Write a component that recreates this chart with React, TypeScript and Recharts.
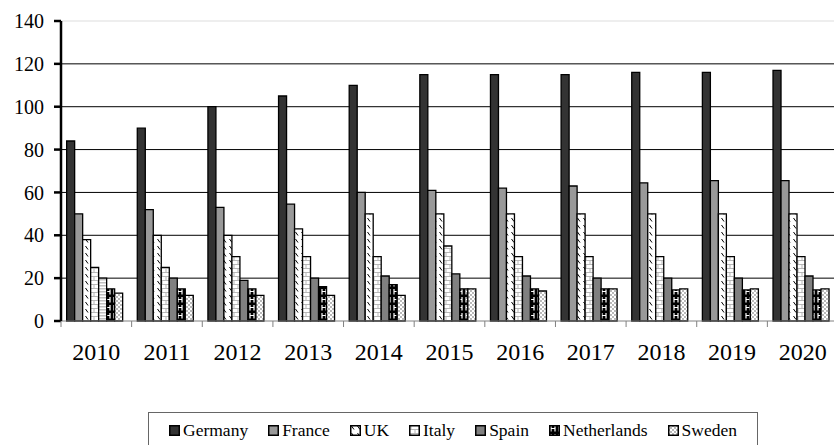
import { BarChart, Bar, XAxis, YAxis, CartesianGrid, ReferenceLine, Cell } from "recharts";

const years = ["2010", "2011", "2012", "2013", "2014", "2015", "2016", "2017", "2018", "2019", "2020"];
const germany = [84, 90, 100, 105, 110, 115, 115, 115, 116, 116, 117];
const france = [50, 52, 53, 54.5, 60, 61, 62, 63, 64.5, 65.5, 65.5];
const uk = [38, 40, 40, 43, 50, 50, 50, 50, 50, 50, 50];
const italy = [25, 25, 30, 30, 30, 35, 30, 30, 30, 30, 30];
const spain = [20, 20, 19, 20, 21, 22, 21, 20, 20, 20, 21];
const netherlands = [15, 15, 15, 16, 17, 15, 15, 15, 14.5, 14.5, 14.5];
const sweden = [13, 12, 12, 12, 12, 15, 14, 15, 15, 15, 15];
const yTicks = [0, 20, 40, 60, 80, 100, 120, 140];
const gridValues = [20, 40, 60, 80, 100, 120];

const series = [
  { key: "Germany", values: germany, fill: "#333333" },
  { key: "France", values: france, fill: "#999999" },
  { key: "UK", values: uk, fill: "url(#pat-uk)" },
  { key: "Italy", values: italy, fill: "url(#pat-italy)" },
  { key: "Spain", values: spain, fill: "#808080" },
  { key: "Netherlands", values: netherlands, fill: "url(#pat-nl)" },
  { key: "Sweden", values: sweden, fill: "url(#pat-se)" },
];

const data = years.map((year, i) => {
  const row: Record<string, string | number> = { year };
  series.forEach((s) => (row[s.key] = s.values[i]));
  return row;
});

const FONT = "Liberation Serif, Times New Roman, DejaVu Serif, serif";
const CHART_W = 850;
const PLOT_LEFT = 61;
const PLOT_RIGHT = 838;
const AXIS_Y = 321;
const BAND = (PLOT_RIGHT - PLOT_LEFT) / years.length;

function XTick(props: any) {
  const { x, payload } = props;
  return (
    <g>
      <line x1={x - BAND / 2} x2={x - BAND / 2} y1={AXIS_Y} y2={AXIS_Y + 6} stroke="#808080" strokeWidth={1} />
      <text x={x} y={360} textAnchor="middle" fontSize={24} fontFamily={FONT} fill="#000">
        {payload.value}
      </text>
    </g>
  );
}

function Patterns() {
  return (
    <defs>
      <pattern id="pat-uk" width="6" height="7" patternUnits="userSpaceOnUse">
        <rect width="6" height="7" fill="#fff" />
        <path d="M1.5 1 L4 4.5" stroke="#000" strokeWidth="1" />
      </pattern>
      <pattern id="pat-italy" width="8" height="8" patternUnits="userSpaceOnUse">
        <rect width="8" height="8" fill="#fff" />
        <path d="M0 0.5 H8 M0 4.5 H8 M2 0.5 V4.5 M6 4.5 V8.5" stroke="#b8b8b8" strokeWidth="1" />
      </pattern>
      <pattern id="pat-stripes" width="4" height="3" patternUnits="userSpaceOnUse">
        <rect width="4" height="3" fill="#fff" />
        <rect y="0" width="4" height="1.5" fill="#c0c0c0" />
      </pattern>
      <pattern id="pat-nl" width="8" height="8" patternUnits="userSpaceOnUse">
        <rect width="8" height="8" fill="#000" />
        <path d="M2 1 V6.5 M2 3.5 H6 M6 1 V6.5" stroke="#fff" strokeWidth="1.2" fill="none" />
      </pattern>
      <pattern id="pat-se" width="4" height="4" patternUnits="userSpaceOnUse">
        <rect width="4" height="4" fill="#fff" />
        <circle cx="1" cy="1" r="0.9" fill="#999" />
        <circle cx="3" cy="3" r="0.9" fill="#999" />
      </pattern>
    </defs>
  );
}

function Legend() {
  return (
    <div
      style={{
        position: "absolute",
        left: 148,
        top: 412,
        width: 610,
        height: 40,
        borderTop: "1.5px solid #666",
        borderLeft: "1.5px solid #666",
        borderRight: "1.5px solid #666",
        boxSizing: "border-box",
        fontFamily: FONT,
        fontSize: 17.5,
      }}
    >
      <div
        style={{
          position: "absolute",
          left: 0,
          right: 0,
          top: 7,
          height: 20,
          display: "flex",
          justifyContent: "center",
          alignItems: "center",
          gap: 20,
          lineHeight: "20px",
        }}
      >
        {series.map((s) => (
          <div key={s.key} style={{ display: "flex", alignItems: "center", gap: 3 }}>
            <svg width={11} height={11} style={{ display: "block" }}>
              <rect x={0.75} y={0.75} width={9.5} height={9.5} fill={s.fill} stroke="#000" strokeWidth={1.5} />
            </svg>
            <span>{s.key}</span>
          </div>
        ))}
      </div>
    </div>
  );
}

export default function App() {
  return (
    <div
      style={{
        position: "absolute",
        left: 0,
        top: 0,
        width: 834,
        height: 445,
        overflow: "hidden",
        background: "#fff",
      }}
    >
      <BarChart
        width={CHART_W}
        height={445}
        data={data}
        margin={{ top: 21, right: CHART_W - PLOT_RIGHT, left: 0, bottom: 0 }}
        barCategoryGap="8%"
        barGap={0}
      >
        <Patterns />
        <CartesianGrid vertical={false} horizontalValues={gridValues} stroke="#000" strokeWidth={1} />
        <ReferenceLine y={140} stroke="#dddddd" strokeWidth={1} />
        <XAxis
          dataKey="year"
          height={124}
          stroke="#808080"
          tickLine={false}
          tick={<XTick />}
          interval={0}
        />
        <YAxis
          width={PLOT_LEFT}
          domain={[0, 140]}
          ticks={yTicks}
          interval={0}
          axisLine={{ stroke: "#000", strokeWidth: 2.5 }}
          tickLine={{ stroke: "#000", strokeWidth: 2.5 }}
          tickSize={7}
          tickMargin={10}
          tick={{ fontSize: 20, fontFamily: FONT, fill: "#000" }}
        />
        {series.map((s) => (
          <Bar
            key={s.key}
            dataKey={s.key}
            fill={s.fill}
            stroke="#000"
            strokeWidth={1.3}
            isAnimationActive={false}
          >
            {s.key === "Spain"
              ? years.map((y, i) => <Cell key={y} fill={i === 0 ? "url(#pat-stripes)" : s.fill} />)
              : null}
          </Bar>
        ))}
      </BarChart>
      <Legend />
    </div>
  );
}
